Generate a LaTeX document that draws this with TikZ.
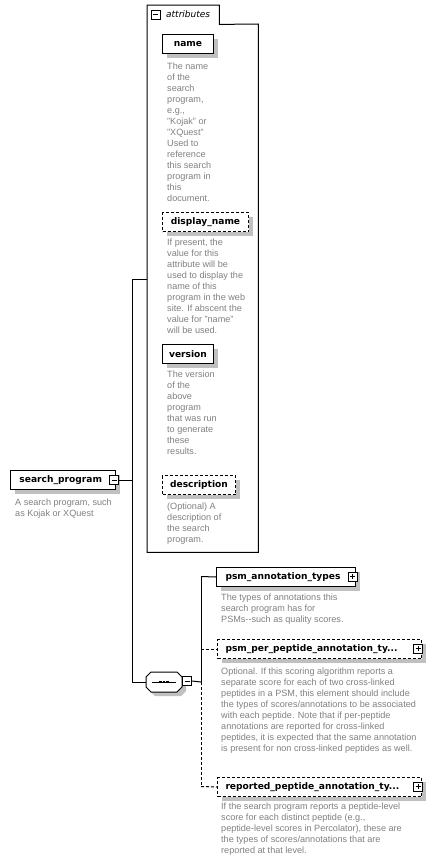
\documentclass[tikz,border=0pt]{standalone}
\usepackage{fontspec}
\setmainfont{Liberation Sans}
\newfontfamily\labelfont{DejaVu Sans}
\usetikzlibrary{shadows}
\definecolor{shadowgray}{RGB}{192,192,192}
\definecolor{notegray}{RGB}{128,128,128}
% octagonal outline of a sequence compositor centred at (#1,#2)
\newcommand\octagonat[2]{(#1-18,#2-5) -- (#1-13,#2-10) -- (#1+13,#2-10) -- (#1+18,#2-5)
  -- (#1+18,#2+5) -- (#1+13,#2+10) -- (#1-13,#2+10) -- (#1-18,#2+5) -- cycle}
\begin{document}
\begin{tikzpicture}[x=1pt,y=-1pt,
  elembox/.style={draw, line width=1pt, fill=white, inner sep=0pt, anchor=north west,
    minimum height=19pt,
    font=\labelfont\bfseries\fontsize{9.1}{10}\selectfont,
    drop shadow={shadow xshift=4pt, shadow yshift=-4pt, fill=shadowgray, opacity=1}},
  optbox/.style={elembox, dash pattern=on 3pt off 2pt},
  note/.style={anchor=north west, inner sep=0pt, align=left, text=notegray,
    font=\fontsize{9.1}{11}\selectfont},
  signbox/.style={draw, fill=white, line width=0.8pt, minimum size=9pt, inner sep=0pt},
  minusbox/.style={signbox, path picture={
    \draw[line width=0.8pt] ([xshift=2pt]path picture bounding box.west) -- ([xshift=-2pt]path picture bounding box.east);}},
  plusbox/.style={signbox, path picture={
    \draw[line width=0.8pt] ([xshift=2pt]path picture bounding box.west) -- ([xshift=-2pt]path picture bounding box.east);
    \draw[line width=0.8pt] ([yshift=-2pt]path picture bounding box.north) -- ([yshift=2pt]path picture bounding box.south);}},
  link/.style={line width=1pt},
  optlink/.style={line width=1pt, dash pattern=on 3pt off 2pt}
]
\useasboundingbox (0,0) rectangle (432,863);

% attributes group frame with its tab
\node[draw=none, inner sep=0pt, minimum width=72pt, minimum height=19pt, anchor=north west] (attrtab) at (147,5) {};
\node[draw=none, inner sep=0pt, minimum width=111pt, minimum height=528pt, anchor=north west] (attrbox) at (147,24) {};
\draw[link] (attrtab.south west) -- (attrtab.north west) -- (attrtab.north east) -- (attrtab.south east)
  -- (attrbox.north east) -- (attrbox.south east) -- (attrbox.south west) -- cycle;
\node[minusbox] (attrminus) at (155.5,14.5) {};
\node[anchor=west, inner sep=0pt, font=\labelfont\itshape\fontsize{9}{10}\selectfont] (attrlabel) at (166,14.5) {attributes};

% attributes
\node[elembox, minimum width=51pt] (name) at (162,34) {name};
\node[note] (namenote) at (167,62.5) {The name\\of the\\search\\program,\\e.g.,\\"Kojak" or\\"XQuest"\\Used to\\reference\\this search\\program in\\this\\document.};

\node[optbox, minimum width=86pt] (dispname) at (162,212) {display\_name};
\node[note] (dispnote) at (167,238.5) {If present, the\\value for this\\attribute will be\\used to display the\\name of this\\program in the web\\site. If abscent the\\value for "name"\\will be used.};

\node[elembox, minimum width=51pt] (version) at (162,344) {version};
\node[note] (versionnote) at (167,371) {The version\\of the\\above\\program\\that was run\\to generate\\these\\results.};

\node[optbox, minimum width=73pt] (descr) at (162,475) {description};
\node[note] (descrnote) at (167,503) {(Optional) A\\description of\\the search\\program.};

% root element
\node[elembox, minimum width=105pt, text width=87pt, inner xsep=9pt, align=left] (root) at (10,470) {search\_program};
\node[minusbox] (rootminus) at (114,480) {};
\node[note] (rootnote) at (15,499) {A search program, such\\as Kojak or XQuest};

% sequence compositor
\node[draw=none, inner sep=0pt, minimum width=36pt, minimum height=20pt] (seq) at (164,682) {};
\fill[shadowgray] \octagonat{168}{686};
\draw[line width=1pt, fill=white] \octagonat{164}{682};
\draw[line width=1pt] ([xshift=-12pt]seq.center) -- ([xshift=12pt]seq.center);
\foreach \dx in {-3.5,0,3.5}
  \fill ([xshift=\dx pt]seq.center) +(-1.4,-1.4) rectangle +(1.4,1.4);
\node[minusbox] (seqminus) at (187,681) {};

% child elements
\node[elembox, minimum width=139pt, text width=121pt, inner xsep=9pt, align=left] (pat) at (216,567) {psm\_annotation\_types};
\node[plusbox] (patplus) at (352.5,576.5) {};
\node[note] (patnote) at (221,594) {The types of annotations this\\search program has for\\PSMs-{}-such as quality scores.};

\node[optbox, minimum width=204pt, text width=188pt, inner xsep=8pt, align=left] (ppat) at (217,639) {psm\_per\_peptide\_annotation\_ty...};
\node[plusbox] (ppatplus) at (418,648.5) {};
\node[note] (ppatnote) at (221,668) {Optional. If this scoring algorithm reports a\\separate score for each of two cross-linked\\peptides in a PSM, this element should include\\the types of scores/annotations to be associated\\with each peptide. Note that if per-peptide\\annotations are reported for cross-linked\\peptides, it is expected that the same annotation\\is present for non cross-linked peptides as well.};

\node[optbox, minimum width=204pt, text width=188pt, inner xsep=8pt, align=left] (rpat) at (217,777) {reported\_peptide\_annotation\_ty...};
\node[plusbox] (rpatplus) at (418,786.5) {};
\node[note] (rpatnote) at (221,803) {If the search program reports a peptide-level\\score for each distinct peptide (e.g.,\\peptide-level scores in Percolator), these are\\the types of scores/annotations that are\\reported at that level.};

% connectors
\coordinate (trunktop) at (132,279);
\coordinate (trunkbot) at (132,682);
\coordinate (branchjoin) at (201,682);
\coordinate (branchtop) at (201,576.5);
\coordinate (branchbot) at (201,786.5);

\draw[link] (rootminus.east) -- (rootminus.east -| trunktop);
\draw[link] (trunktop) -- (trunkbot);
\draw[link] (trunktop) -- (trunktop -| attrbox.west);
\draw[link] (trunkbot) -- (seq.west);
\draw[link] (seqminus.east) -- (branchjoin);
\draw[link] (branchtop) -- (branchjoin);
\draw[optlink] (branchjoin) -- (branchbot);
\draw[link] (branchtop) -- (pat.west);
\draw[optlink] (branchtop |- ppat.west) -- (ppat.west);
\draw[optlink] (branchbot) -- (rpat.west);
\end{tikzpicture}
\end{document}
